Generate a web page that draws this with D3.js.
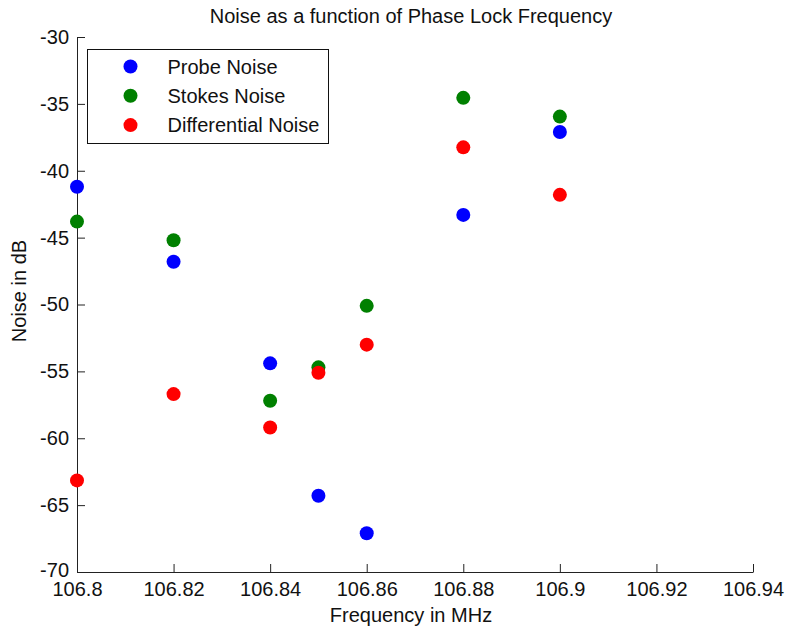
<!DOCTYPE html>
<html>
<head>
<meta charset="utf-8">
<script src="https://cdn.jsdelivr.net/npm/d3@7"></script>
<style>
	body { margin: 0; background: #fff; }
	text { font-family: "Liberation Sans", Arial, sans-serif; fill: #111; }
	.axis path, .axis line { stroke: #222; }
</style>
</head>
<body>
<div id="chart-area"></div>
<script>

// DATA

let frequencies = [106.8, 106.82, 106.84, 106.85, 106.86, 106.88, 106.9];
let probeNoise = [-41.2, -46.8, -54.4, -64.3, -67.1, -43.3, -37.1];
let stokesNoise = [-43.8, -45.2, -57.2, -54.7, -50.1, -34.55, -35.95];
let differentialNoise = [-63.15, -56.7, -59.2, -55.1, -53.0, -38.25, -41.8];

let xTicks = [106.8, 106.82, 106.84, 106.86, 106.88, 106.9, 106.92, 106.94];
let yTicks = [-70, -65, -60, -55, -50, -45, -40, -35, -30];

let seriesNames = ["Probe Noise", "Stokes Noise", "Differential Noise"];
let seriesColors = ["#0000ff", "#008000", "#ff0000"];
let seriesValues = [probeNoise, stokesNoise, differentialNoise];


// CHART AREA

let margin = {top: 37, right: 33, bottom: 58, left: 77},
	width = 786 - margin.left - margin.right,
	height = 630 - margin.top - margin.bottom;

let svg = d3.select("#chart-area").append("svg")
	.attr("width", width + margin.left + margin.right)
	.attr("height", height + margin.top + margin.bottom)
	.append("g")
	.attr("transform", "translate(" + margin.left + "," + margin.top + ")");

let xScale = d3.scaleLinear()
	.domain([106.8, 106.94])
	.range([0, width]);

let yScale = d3.scaleLinear()
	.domain([-70, -30])
	.range([height, 0]);


// AXIS

let xAxis = d3.axisBottom(xScale)
	.tickValues(xTicks)
	.tickFormat(d => String(+d.toFixed(2)))
	.tickSizeInner(-8)
	.tickSizeOuter(0)
	.tickPadding(10);

let yAxis = d3.axisLeft(yScale)
	.tickValues(yTicks)
	.tickFormat(d => d)
	.tickSizeInner(-8)
	.tickSizeOuter(0)
	.tickPadding(8);

svg.append("g")
	.attr("class", "x-axis axis")
	.attr("transform", "translate(0," + height + ")")
	.call(xAxis)
	.selectAll("text")
	.style("font-size", "20px");

svg.append("g")
	.attr("class", "y-axis axis")
	.call(yAxis)
	.selectAll("text")
	.style("font-size", "20px");

svg.selectAll(".axis text").attr("fill", "#111");

// lowest y label sits a little higher, as in the original
svg.selectAll(".y-axis .tick")
	.filter(d => d === -70)
	.select("text")
	.attr("dy", "0.2em");


// ---- DRAW POINTS ----

seriesValues.forEach(function(values, i) {
	svg.selectAll(".dot-" + i)
		.data(values)
		.enter()
		.append("circle")
		.attr("class", "dot-" + i)
		.attr("cx", (d, j) => xScale(frequencies[j]))
		.attr("cy", d => yScale(d))
		.attr("r", 7)
		.attr("fill", seriesColors[i]);
});


// TITLES

svg.append("text")
	.attr("x", width / 2 - 4)
	.attr("y", -14)
	.style("text-anchor", "middle")
	.style("font-size", "20px")
	.text("Noise as a function of Phase Lock Frequency");

svg.append("text")
	.attr("x", width / 2 - 4)
	.attr("y", height + 50)
	.style("text-anchor", "middle")
	.style("font-size", "20px")
	.text("Frequency in MHz");

svg.append("text")
	.attr("transform", "rotate(-90)")
	.attr("x", -(291 - margin.top))
	.attr("y", -65)
	.attr("dy", ".71em")
	.style("text-anchor", "middle")
	.style("font-size", "20px")
	.text("Noise in dB");


// LEGEND

let legend = svg.append("g")
	.attr("transform", "translate(" + (87.5 - margin.left) + "," + (49.5 - margin.top) + ")");

legend.append("rect")
	.attr("width", 241)
	.attr("height", 94)
	.attr("fill", "#fff")
	.attr("stroke", "#111");

seriesNames.forEach(function(name, i) {
	legend.append("circle")
		.attr("cx", 43)
		.attr("cy", 17 + i * 29.3)
		.attr("r", 7)
		.attr("fill", seriesColors[i]);

	legend.append("text")
		.attr("x", 80)
		.attr("y", 17 + i * 29.3)
		.attr("dy", ".36em")
		.style("font-size", "20px")
		.text(name);
});

</script>
</body>
</html>
